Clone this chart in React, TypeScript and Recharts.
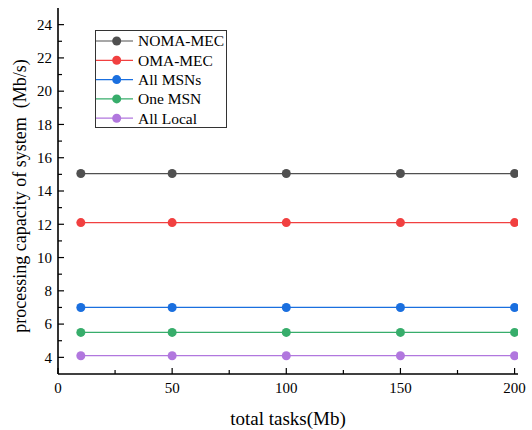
import React from 'react';
import { LineChart, Line, XAxis, YAxis, Legend, Label } from 'recharts';

const FONT = '"Liberation Serif", "Times New Roman", Times, serif';

// ---- data ----
const totalTasks = [10, 50, 100, 150, 200];
const nomaMec = [15.05, 15.05, 15.05, 15.05, 15.05];
const omaMec = [12.1, 12.1, 12.1, 12.1, 12.1];
const allMsns = [7.0, 7.0, 7.0, 7.0, 7.0];
const oneMsn = [5.5, 5.5, 5.5, 5.5, 5.5];
const allLocal = [4.1, 4.1, 4.1, 4.1, 4.1];

const seriesNames = ['NOMA-MEC', 'OMA-MEC', 'All MSNs', 'One MSN', 'All Local'];
const seriesColors = ['#505050', '#F14040', '#1A6FDF', '#37AD6B', '#B177DE'];
const seriesValues = [nomaMec, omaMec, allMsns, oneMsn, allLocal];

const xTicks = [0, 25, 50, 75, 100, 125, 150, 175, 200];
const xMajorTicks = [0, 50, 100, 150, 200];
const yTicks = [4, 5, 6, 7, 8, 9, 10, 11, 12, 13, 14, 15, 16, 17, 18, 19, 20, 21, 22, 23, 24];
const yMajorTicks = [4, 6, 8, 10, 12, 14, 16, 18, 20, 22, 24];

const xTitle = 'total tasks(Mb)';
const yTitle = 'processing capacity of system\u00a0\u00a0(Mb/s)';

const data = totalTasks.map((x, i) => {
  const row: Record<string, number> = { x };
  seriesValues.forEach((vals, s) => {
    row['s' + s] = vals[i];
  });
  return row;
});

const MAJOR = 6;
const MINOR = 4;
const LEFT_MARGIN = 6;
const BOTTOM_MARGIN = 14;
const TICK_STROKE = '#000';

const LeftTick = (props: any) => {
  const { x, y, payload } = props;
  const v = payload.value;
  const major = yMajorTicks.includes(v);
  const ax = x + LEFT_MARGIN;
  return (
    <g>
      <line x1={ax} x2={ax + (major ? MAJOR : MINOR)} y1={y} y2={y} stroke={TICK_STROKE} strokeWidth={1.2} />
      {major && (
        <text x={x} y={y} dy="0.35em" textAnchor="end" fontFamily={FONT} fontSize={15} fill="#000">
          {v}
        </text>
      )}
    </g>
  );
};

const RightTick = (props: any) => {
  const { x, y, payload } = props;
  const major = yMajorTicks.includes(payload.value);
  return <line x1={x} x2={x - (major ? MAJOR : MINOR)} y1={y} y2={y} stroke={TICK_STROKE} strokeWidth={1.2} />;
};

const BottomTick = (props: any) => {
  const { x, y, payload } = props;
  const v = payload.value;
  const major = xMajorTicks.includes(v);
  const ay = y - BOTTOM_MARGIN;
  return (
    <g>
      <line x1={x} x2={x} y1={ay} y2={ay - (major ? MAJOR : MINOR)} stroke={TICK_STROKE} strokeWidth={1.2} />
      {major && (
        <text x={x} y={y} dy="0.35em" textAnchor="middle" fontFamily={FONT} fontSize={15} fill="#000">
          {v}
        </text>
      )}
    </g>
  );
};

const TopTick = (props: any) => {
  const { x, y, payload } = props;
  const major = xMajorTicks.includes(payload.value);
  return <line x1={x} x2={x} y1={y} y2={y + (major ? MAJOR : MINOR)} stroke={TICK_STROKE} strokeWidth={1.2} />;
};

const LegendBox = () => {
  const w = 132;
  const h = 98;
  const rowH = 19.3;
  return (
    <svg width={w} height={h} style={{ display: 'block' }}>
      <rect x={0.5} y={0.5} width={w - 1} height={h - 1} fill="#fff" stroke="#333" strokeWidth={1} />
      {seriesNames.map((name, i) => {
        const cy = 11 + i * rowH;
        return (
          <g key={name}>
            <line x1={1} x2={38} y1={cy} y2={cy} stroke={seriesColors[i]} strokeWidth={1.2} />
            <circle cx={21.7} cy={cy} r={4.5} fill={seriesColors[i]} />
            <text x={43} y={cy} dy="0.35em" fontFamily={FONT} fontSize={15.5} fill="#000">
              {name}
            </text>
          </g>
        );
      })}
    </svg>
  );
};

export default function App() {
  return (
    <div style={{ position: 'absolute', left: 0, top: 0, width: 532, height: 430, background: '#fff' }}>
      <LineChart width={532} height={430} data={data} margin={{ top: 8, right: 14, left: 0, bottom: 0 }}>
        <XAxis
          xAxisId="bottom"
          dataKey="x"
          type="number"
          domain={[0, 201.5]}
          allowDataOverflow
          ticks={xTicks}
          interval={0}
          height={56}
          tickSize={0}
          tickMargin={BOTTOM_MARGIN}
          tick={BottomTick}
          tickLine={false}
          axisLine={{ stroke: '#000', strokeWidth: 1.6 }}
        >
          <Label
            content={(p: any) => {
              const vb = p.viewBox;
              return (
                <text x={vb.x + vb.width / 2} y={425} textAnchor="middle" fontFamily={FONT} fontSize={19} fill="#000">
                  {xTitle}
                </text>
              );
            }}
          />
        </XAxis>
        <XAxis
          xAxisId="top"
          orientation="top"
          type="number"
          domain={[0, 201.5]}
          allowDataOverflow
          ticks={xTicks}
          interval={0}
          height={0}
          tickSize={0}
          tickMargin={0}
          tick={TopTick}
          tickLine={false}
          axisLine={{ stroke: '#000', strokeWidth: 1.4 }}
        />
        <YAxis
          yAxisId="left"
          type="number"
          domain={[3, 25]}
          allowDataOverflow
          ticks={yTicks}
          interval={0}
          width={58}
          tickSize={0}
          tickMargin={LEFT_MARGIN}
          tick={LeftTick}
          tickLine={false}
          axisLine={{ stroke: '#000', strokeWidth: 1.6 }}
        >
          <Label
            content={() => (
              <text
                x={26}
                y={196}
                transform="rotate(-90 26 196)"
                textAnchor="middle"
                fontFamily={FONT}
                fontSize={18}
                fill="#000"
              >
                {yTitle}
              </text>
            )}
          />
        </YAxis>
        <YAxis
          yAxisId="right"
          orientation="right"
          type="number"
          domain={[3, 25]}
          allowDataOverflow
          ticks={yTicks}
          interval={0}
          width={0}
          tickSize={0}
          tickMargin={0}
          tick={RightTick}
          tickLine={false}
          axisLine={{ stroke: '#000', strokeWidth: 1.4 }}
        />
        <Legend
          layout="horizontal"
          align="center"
          verticalAlign="middle"
          content={() => <LegendBox />}
          wrapperStyle={{ left: 95, top: 30, width: 132, height: 98 }}
        />
        {seriesNames.map((name, i) => (
          <Line
            key={name}
            xAxisId="bottom"
            yAxisId="left"
            type="linear"
            dataKey={'s' + i}
            name={name}
            stroke={seriesColors[i]}
            strokeWidth={1.2}
            dot={{ r: 4.5, fill: seriesColors[i], stroke: seriesColors[i], strokeWidth: 0 }}
            activeDot={false}
            isAnimationActive={false}
          />
        ))}
      </LineChart>
    </div>
  );
}
